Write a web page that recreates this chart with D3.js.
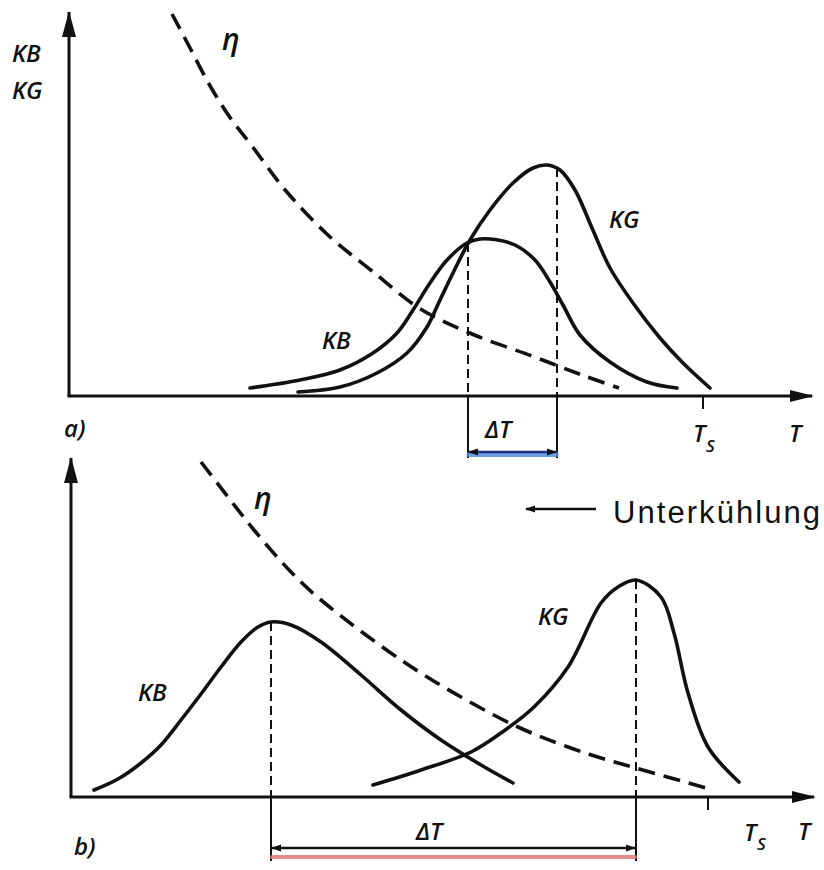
<!DOCTYPE html>
<html>
<head>
<meta charset="utf-8">
<script src="https://cdn.jsdelivr.net/npm/d3@7"></script>
<style>
  body { margin: 0; background: #fff; }
  .lbl { font-family: "Open Sans", "DejaVu Sans", sans-serif; font-weight: 600; font-style: italic; fill: #111; }
</style>
</head>
<body>
<div id="chart_container"></div>
<script>
// panel a) curves, in arbitrary T / K units
let kbA_T = [36.2, 46.2, 54.2, 60.8, 65.6, 68.8, 72.2, 75.6, 79.6, 82.2, 85.2, 89.2, 93.2, 96.2, 98.8, 102.2, 108.2, 115.6, 121.6];
let kbA_K = [1.6, 3.2, 5.2, 8.6, 12.6, 17.2, 22.6, 27.2, 30.6, 31.4, 31.3, 30.2, 27.2, 22.8, 18.2, 12.2, 6.8, 2.8, 1.6];
let kgA_T = [45.8, 54.2, 61.6, 67.6, 71.6, 74.2, 76.8, 80.2, 84.2, 88.8, 92.8, 95.6, 98.2, 101.2, 104.6, 108.2, 112.8, 118.2, 122.8, 128.2];
let kgA_K = [0.8, 1.8, 4.6, 8.6, 13.8, 19.2, 24.6, 31.2, 37.2, 42.6, 45.6, 46.2, 45.2, 41.2, 33.6, 25.6, 18.6, 11.6, 6.6, 1.6];
let etaA_T = [20.6, 24, 28, 32, 36.6, 43.4, 52, 60.6, 70, 80.6, 92.6, 102.6, 110];
let etaA_K = [76.4, 70, 62.4, 56, 50, 41, 32, 25, 17.6, 12.4, 8, 4.2, 1.6];

// panel b) curves
let kbB_T = [4.6, 9.4, 14, 18, 22, 26, 30, 34, 37.4, 40, 44, 50, 58, 66, 74, 82, 88.4];
let kbB_K = [1.4, 3.6, 6.8, 10.4, 15.4, 20.6, 26, 31, 34, 35, 34.4, 31, 24.4, 17.4, 11.4, 6.4, 2.8];
let kgB_T = [60.4, 70, 80, 86, 92.6, 99.4, 106, 109.4, 113, 118, 120.6, 123.4, 127.4, 133.6];
let kgB_K = [2.4, 5.4, 9, 12.8, 18, 26, 38.8, 42, 43.4, 40, 32.8, 20.8, 10, 3];
let etaB_T = [26, 31.4, 36.6, 44, 50, 66, 78, 89.4, 99.4, 106, 113, 127];
let etaB_K = [67, 60, 53.4, 45, 39.4, 27.4, 20, 14, 10, 7.8, 5.8, 1.8];

// markers: dashed verticals [T, K-top], Ts position
let markA_T = [79.8, 97.6];
let markA_K = [30.6, 45.6];
let markB_T = [40, 113];
let markB_K = [35, 43.4];
let tsA = 126.8;
let tsB = 127.4;

let svgWidth = 824;
let svgHeight = 870;

let svg = d3.select("#chart_container")
  .append("svg")
  .attr("width", svgWidth)
  .attr("height", svgHeight);

let defs = svg.append("defs");
defs.append("marker")
  .attr("id", "head")
  .attr("viewBox", "0 0 10 10")
  .attr("refX", 9).attr("refY", 5)
  .attr("markerWidth", 12).attr("markerHeight", 10)
  .attr("markerUnits", "userSpaceOnUse")
  .attr("orient", "auto-start-reverse")
  .append("path").attr("d", "M0,1.5 L10,5 L0,8.5 Z").attr("fill", "#111");

let zip = (xs, ys) => xs.map((x, i) => [x, ys[i]]);

function drawPanel(opt) {
  let x = d3.scaleLinear().domain([0, 149]).range([opt.left, opt.left + 745]);
  let y = d3.scaleLinear().domain([0, opt.kMax]).range([opt.base, opt.base - 5 * opt.kMax]);
  let g = svg.append("g");

  let line = d3.line().x(d => x(d[0])).y(d => y(d[1])).curve(d3.curveCatmullRom.alpha(0.5));

  // axes with arrows
  g.append("path")
    .attr("d", "M" + x(0) + "," + y(0) + " L" + x(0) + "," + (y(opt.kMax) + 1))
    .attr("stroke", "#111").attr("stroke-width", 3).attr("fill", "none");
  g.append("path")
    .attr("d", "M" + x(0) + "," + y(opt.kMax) + " l-7,26 l14,0 Z")
    .attr("fill", "#111");
  g.append("path")
    .attr("d", "M" + (x(0) - 1.5) + "," + y(0) + " L" + (x(149) - 2) + "," + y(0))
    .attr("stroke", "#111").attr("stroke-width", 3).attr("fill", "none");
  g.append("path")
    .attr("d", "M" + x(149) + "," + y(0) + " l-24,-6 l0,12 Z")
    .attr("fill", "#111");

  // Ts tick
  g.append("line")
    .attr("x1", x(opt.ts)).attr("x2", x(opt.ts))
    .attr("y1", y(0)).attr("y2", y(0) + 13)
    .attr("stroke", "#111").attr("stroke-width", 2);

  // dashed verticals
  opt.markT.forEach((t, i) => {
    g.append("line")
      .attr("x1", x(t)).attr("x2", x(t))
      .attr("y1", y(opt.markK[i])).attr("y2", y(0))
      .attr("stroke", "#111").attr("stroke-width", 2)
      .attr("stroke-dasharray", "9,5");
    g.append("line")
      .attr("x1", x(t)).attr("x2", x(t))
      .attr("y1", y(0)).attr("y2", y(0) + opt.dropLen)
      .attr("stroke", "#111").attr("stroke-width", 2);
  });

  // highlight under the delta T arrow
  let ay = y(0) + opt.arrowOff;
  g.append("line")
    .attr("x1", x(opt.markT[0]) + 1).attr("x2", x(opt.markT[1]) - 1)
    .attr("y1", ay + opt.hiOff).attr("y2", ay + opt.hiOff)
    .attr("stroke", opt.hiColor).attr("stroke-width", opt.hiWidth)
    .attr("stroke-linecap", "round").attr("opacity", 0.85);
  g.append("line")
    .attr("x1", x(opt.markT[0]) + 1).attr("x2", x(opt.markT[1]) - 1)
    .attr("y1", ay).attr("y2", ay)
    .attr("stroke", opt.arrowColor).attr("stroke-width", 2.5)
    .attr("marker-start", "url(#head)").attr("marker-end", "url(#head)");

  // curves
  [opt.kb, opt.kg].forEach(pts => {
    g.append("path").datum(pts)
      .attr("d", line)
      .attr("fill", "none").attr("stroke", "#111")
      .attr("stroke-width", 3.6).attr("stroke-linecap", "round");
  });
  g.append("path").datum(opt.eta)
    .attr("d", line)
    .attr("fill", "none").attr("stroke", "#111")
    .attr("stroke-width", 3.6)
    .attr("stroke-dasharray", "17,9");

  // labels
  opt.labels.forEach(l => {
    g.append("text")
      .attr("class", "lbl")
      .attr("x", x(l.t)).attr("y", y(l.k))
      .attr("font-size", l.size || 24)
      .text(l.text);
  });
  return g;
}

let gA = drawPanel({
  left: 69, base: 396, kMax: 77,
  kb: zip(kbA_T, kbA_K), kg: zip(kgA_T, kgA_K), eta: zip(etaA_T, etaA_K),
  markT: markA_T, markK: markA_K, ts: tsA, dropLen: 62,
  arrowOff: 56, hiOff: 2.5, hiColor: "#4f8fe0", hiWidth: 5, arrowColor: "#1d2f7a",
  labels: [
    {t: 83.2, k: -8.4, text: "ΔT"},
    {t: 124.8, k: -9.2, text: "T"},
    {t: 144, k: -9.2, text: "T"},
    {t: -1, k: -8.2, text: "a)"},
    {t: 50.6, k: 9.4, text: "KB"},
    {t: 108, k: 33.6, text: "KG"},
    {t: 30.6, k: 69.2, text: "η", size: 30}
  ]
});
// subscript S of Ts in a)
gA.append("text").attr("class", "lbl").attr("x", 706).attr("y", 452).attr("font-size", 17).text("S");
// y-axis title of a)
gA.append("text").attr("class", "lbl").attr("x", 12).attr("y", 62).attr("font-size", 24).text("KB");
gA.append("text").attr("class", "lbl").attr("x", 12).attr("y", 99).attr("font-size", 24).text("KG");

let gB = drawPanel({
  left: 71, base: 797, kMax: 68,
  kb: zip(kbB_T, kbB_K), kg: zip(kgB_T, kgB_K), eta: zip(etaB_T, etaB_K),
  markT: markB_T, markK: markB_K, ts: tsB, dropLen: 64,
  arrowOff: 51, hiOff: 9, hiColor: "#e57b7b", hiWidth: 4, arrowColor: "#111",
  labels: [
    {t: 69, k: -8.6, text: "ΔT"},
    {t: 134.6, k: -8.8, text: "T"},
    {t: 145.4, k: -8.6, text: "T"},
    {t: 0.6, k: -11.6, text: "b)"},
    {t: 13.4, k: 19.2, text: "KB"},
    {t: 93.4, k: 34.4, text: "KG"},
    {t: 36.6, k: 57.6, text: "η", size: 30}
  ]
});
gB.append("text").attr("class", "lbl").attr("x", 757).attr("y", 850).attr("font-size", 17).text("S");

// Unterkühlung note
svg.append("line")
  .attr("x1", 596).attr("x2", 526).attr("y1", 509).attr("y2", 509)
  .attr("stroke", "#111").attr("stroke-width", 2.5)
  .attr("marker-end", "url(#head)");
svg.append("text")
  .attr("x", 613).attr("y", 523)
  .attr("font-family", "Liberation Sans, Arial, sans-serif")
  .attr("font-size", 31)
  .attr("textLength", 207)
  .attr("fill", "#111")
  .text("Unterkühlung");
</script>
</body>
</html>
